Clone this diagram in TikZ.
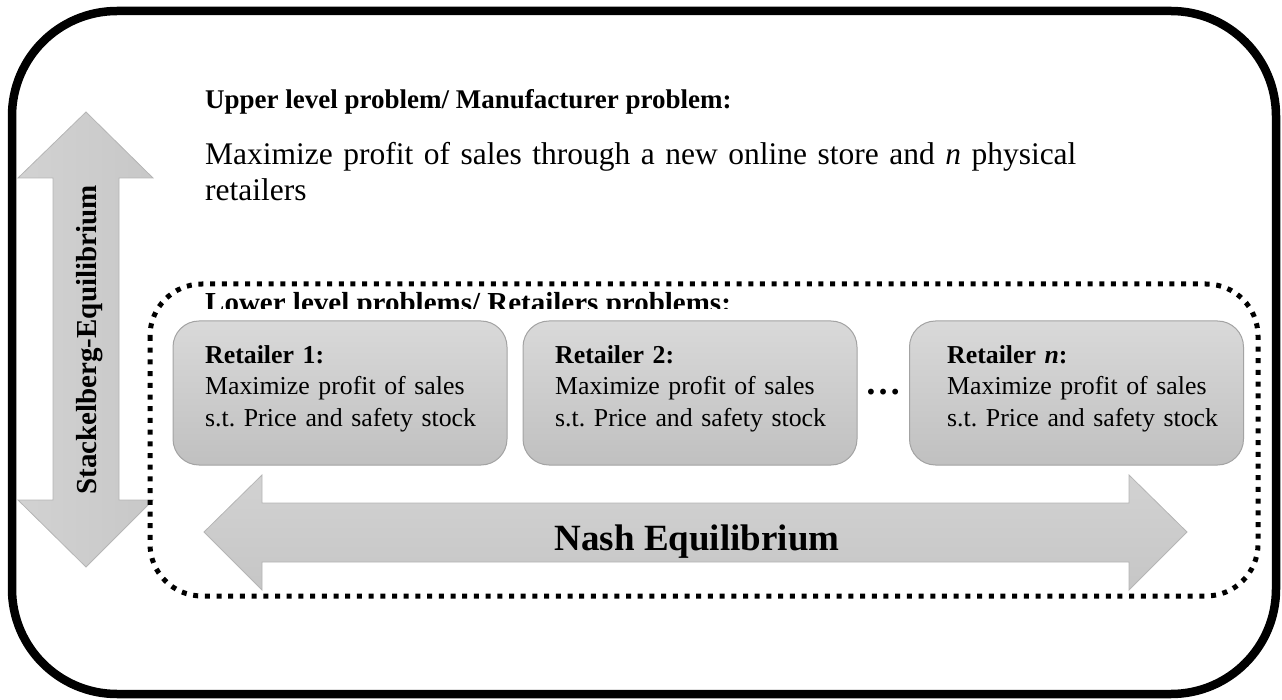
\documentclass[tikz,border=0pt]{standalone}
\usepackage{fontspec}
\setmainfont{Liberation Serif}
\frenchspacing

\definecolor{boxtop}{HTML}{D9D9D9}
\definecolor{boxbot}{HTML}{C0C0C0}
\definecolor{boxline}{HTML}{A3A3A3}
\definecolor{arrowtop}{HTML}{D2D2D2}
\definecolor{arrowbot}{HTML}{C6C6C6}
\definecolor{arrowline}{HTML}{B5B5B5}

\begin{document}
\begin{tikzpicture}[x=1pt, y=-1pt,
		retailer/.style={draw=boxline, line width=1pt, top color=boxtop, bottom color=boxbot, rounded corners=26pt, minimum width=334pt, minimum height=144pt, inner sep=0pt},
		grayarrow/.style={draw=arrowline, line width=0.8pt, top color=arrowtop, bottom color=arrowbot},
		boxtext/.style={anchor=base west, inner sep=0pt, text width=320pt, align=left, font=\fontsize{25.8}{31.5}\selectfont},
		headtext/.style={anchor=base west, inner sep=0pt}]
			%%%%% START %%%%%
			\useasboundingbox (0,0) rectangle (1282,700);
			
			% outer frame
			\draw[line width=8.5pt, rounded corners=105pt] (12,11) rectangle (1276,694);
			
			% upper level
			\node[headtext, font=\bfseries\fontsize{27}{27}\selectfont] (uptitle) at (205,109) {Upper level problem/ Manufacturer problem:};
			\node[headtext, text width=1000pt, align=left, font=\fontsize{31.5}{36}\selectfont] (upbody) at (205,165) {Maximize profit of sales through a new online store and \textit{n} physical\\retailers};
			
			% stackelberg arrow
			\draw[grayarrow, left color=arrowtop, right color=arrowtop!95!black] (86,112) -- (153,178) -- (119,178) -- (119,500) -- (153,500) -- (86,567) -- (18,500) -- (53,500) -- (53,178) -- (18,178) -- cycle;
			\node[rotate=90, anchor=base, inner sep=0pt, font=\bfseries\fontsize{29}{29}\selectfont] (stackel) at (96,340) {Stackelberg-Equilibrium};
			
			% lower level
			\draw[line width=5pt, dash pattern=on 5pt off 6.7pt, rounded corners=52pt] (150,284) rectangle (1258,596);
			\begin{scope}
				\clip (190,270) rectangle (800,309);
				\node[headtext, font=\bfseries\fontsize{29}{29}\selectfont] (lowtitle) at (205,313) {Lower level problems/ Retailers problems:};
			\end{scope}
			
			\node[retailer] (ret1) at (340,393) {};
			\node[boxtext] (ret1txt) at (205,363) {\textbf{Retailer 1:}\\Maximize profit of sales\\s.t. Price and safety stock};
			
			\node[retailer] (ret2) at (690,393) {};
			\node[boxtext] (ret2txt) at (555,363) {\textbf{Retailer 2:}\\Maximize profit of sales\\s.t. Price and safety stock};
			
			\node[anchor=base, inner sep=0pt, font=\bfseries\fontsize{36}{36}\selectfont] (dots) at (883,394) {…};
			
			\node[retailer] (retn) at (1076.5,393) {};
			\node[boxtext] (retntxt) at (947,363) {\textbf{Retailer \textit{n}:}\\Maximize profit of sales\\s.t. Price and safety stock};
			
			% nash arrow
			\draw[grayarrow] (204,532) -- (262,475) -- (262,503) -- (1129,503) -- (1129,475) -- (1187,532) -- (1129,590) -- (1129,562) -- (262,562) -- (262,590) -- cycle;
			\node[anchor=base, inner sep=0pt, font=\bfseries\fontsize{37}{37}\selectfont] (nash) at (697,550) {Nash Equilibrium};
			
			%%%%% END %%%%%
		\end{tikzpicture}
\end{document}
